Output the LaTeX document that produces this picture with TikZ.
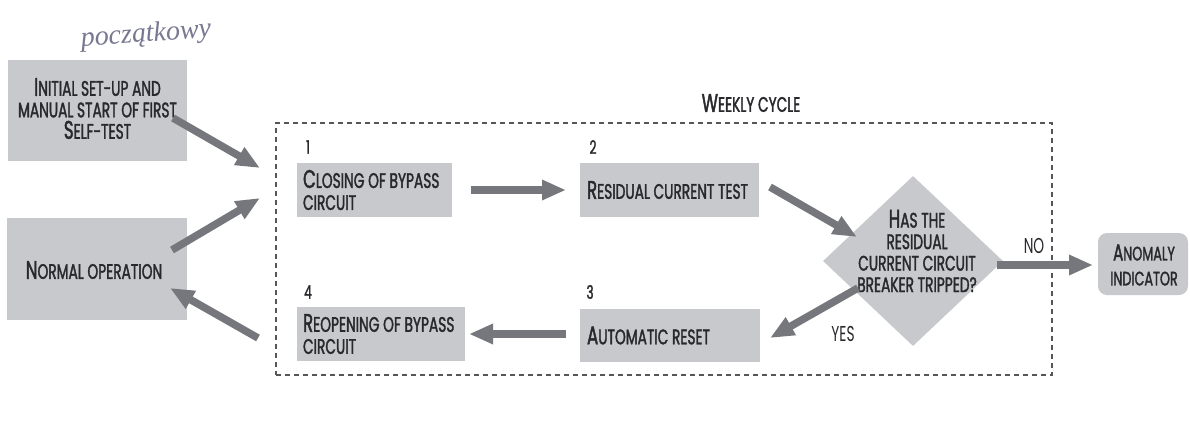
\documentclass[tikz,border=0pt]{standalone}
\usepackage{fontspec}
\setmainfont{Poppins}
\newfontfamily\lab{Poppins}[FakeStretch=0.655,FakeBold=1.6]
\newfontfamily\labreg{Poppins}[FakeStretch=0.64]
\newfontfamily\hand{Liberation Serif}
\usetikzlibrary{arrows.meta,shapes.geometric}
\definecolor{boxgrey}{RGB}{200,201,205}
\definecolor{arrowgrey}{RGB}{118,119,124}
\definecolor{textcol}{RGB}{40,40,45}
\definecolor{dashcol}{RGB}{85,85,90}
\definecolor{handcol}{RGB}{120,120,145}
\newcommand\bc[1]{{\fontsize{25.5}{21}\selectfont #1}}
\tikzset{
  box/.style={fill=boxgrey, draw=none, inner sep=0pt},
  txt/.style={font=\lab\fontsize{21}{22}\selectfont, text=textcol, inner sep=0pt, align=left},
  ctxt/.style={font=\lab\fontsize{21}{21.5}\selectfont, text=textcol, inner sep=0pt, align=center},
  numlab/.style={font=\lab\fontsize{18.5}{18.5}\selectfont, text=textcol, inner sep=0pt},
  yn/.style={font=\labreg\fontsize{21.5}{21.5}\selectfont, text=textcol, inner sep=0pt},
  bigarrow/.style={draw=arrowgrey, line width=7.5pt, -{Triangle[length=24pt,width=19pt]}},
}
\begin{document}
\begin{tikzpicture}[x=1pt,y=-1pt]
\useasboundingbox[fill=white] (0,0) rectangle (1190,429);

% handwritten note
\node[font=\hand\itshape\fontsize{28}{28}\selectfont, text=handcol, rotate=4] (hw) at (146,35) {początkowy};

% outside boxes
\node[box, minimum width=179, minimum height=101] (init) at (97.5,110.5) {};
\node[ctxt] (tinit) at (97.5,108.5) {{\bc I}NITIAL SET-UP AND\\MANUAL START OF FIRST\\{\bc S}ELF-TEST};
\node[box, minimum width=180, minimum height=102] (norm) at (97,269) {};
\node[ctxt] (tnorm) at (94,270) {{\bc N}ORMAL OPERATION};

% weekly cycle frame
\node[draw=dashcol, line width=1.1pt, dash pattern=on 5pt off 4pt, minimum width=776, minimum height=252, inner sep=0pt] (cyc) at (664,249) {};
\node[ctxt] (wk) at (751,103) {{\bc W}EEKLY CYCLE};

% steps
\node[box, minimum width=155, minimum height=54] (b1) at (374.5,190) {};
\node[txt, anchor=west] (t1) at ([xshift=6pt]b1.west) {{\bc C}LOSING OF BYPASS\\CIRCUIT};
\node[numlab] (n1) at (308,147) {1};

\node[box, minimum width=179, minimum height=54] (b2) at (669.5,190) {};
\node[txt, anchor=west] (t2) at ([xshift=7pt]b2.west) {{\bc R}ESIDUAL CURRENT TEST};
\node[numlab] (n2) at (593,147) {2};

\node[box, minimum width=180, minimum height=53] (b3) at (670,335.5) {};
\node[txt, anchor=west] (t3) at ([xshift=7pt]b3.west) {{\bc A}UTOMATIC RESET};
\node[numlab] (n3) at (590,292) {3};

\node[box, minimum width=168, minimum height=54] (b4) at (381,334) {};
\node[txt, anchor=west] (t4) at ([xshift=6pt]b4.west) {{\bc R}EOPENING OF BYPASS\\CIRCUIT};
\node[numlab] (n4) at (308,292) {4};

% decision
\node[box, diamond, minimum width=180, minimum height=170] (dia) at (913,261) {};
\node[ctxt] (tdia) at (917,251) {{\bc H}AS THE\\RESIDUAL\\CURRENT CIRCUIT\\BREAKER TRIPPED?};

% anomaly
\node[box, rounded corners=9pt, minimum width=90, minimum height=62] (anom) at (1143,264) {};
\node[ctxt, font=\lab\fontsize{19.5}{25}\selectfont] (tanom) at (1144,265) {{\fontsize{23}{23}\selectfont A}NOMALY\\INDICATOR};

% labels
\node[yn] (no) at (1034,246) {NO};
\node[yn] (yes) at (843,334) {YES};

% arrow end points
\coordinate (a1s) at (173,118); \coordinate (a1e) at (260,168);
\coordinate (a2s) at (172,250); \coordinate (a2e) at (260,198);
\coordinate (a3s) at (258,338); \coordinate (a3e) at (170,288);
\coordinate (a12s) at (471,190); \coordinate (a12e) at (566,190);
\coordinate (a2ds) at (770,187); \coordinate (a2de) at (857,237);
\coordinate (ayess) at (858,288); \coordinate (ayese) at (770,338);
\coordinate (a34s) at (566,334); \coordinate (a34e) at (469,334);
\coordinate (anos) at (997,265); \coordinate (anoe) at (1093,265);

\draw[bigarrow] (a1s) -- (a1e);
\draw[bigarrow] (a2s) -- (a2e);
\draw[bigarrow] (a3s) -- (a3e);
\draw[bigarrow] (a12s) -- (a12e);
\draw[bigarrow] (a2ds) -- (a2de);
\draw[bigarrow] (ayess) -- (ayese);
\draw[bigarrow] (a34s) -- (a34e);
\draw[bigarrow] (anos) -- (anoe);
\end{tikzpicture}
\end{document}
